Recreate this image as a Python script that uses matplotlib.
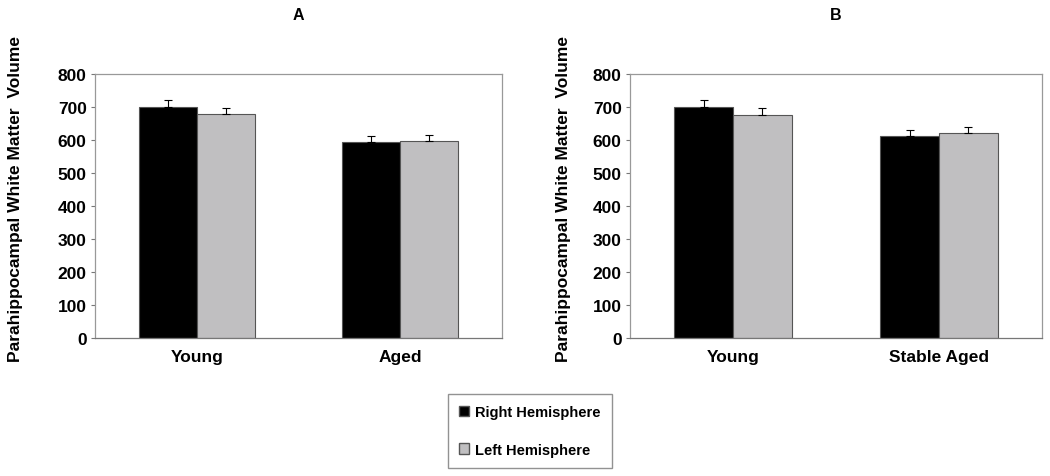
import matplotlib.pyplot as plt
import numpy as np
from matplotlib.patches import Patch

plt.rcParams['font.family'] = ['Liberation Sans', 'DejaVu Sans']
plt.rcParams['font.weight'] = 'bold'

# data
groups_a = ['Young', 'Aged']
right_a = [700, 593]
left_a = [680, 597]
right_err_a = [20, 20]
left_err_a = [16, 19]

groups_b = ['Young', 'Stable Aged']
right_b = [700, 612]
left_b = [677, 622]
right_err_b = [20, 18]
left_err_b = [19, 18]

series_names = ['Right Hemisphere', 'Left Hemisphere']
colors = ['black', '#c0bfc1']
yticks = [0, 100, 200, 300, 400, 500, 600, 700, 800]

fig = plt.figure(figsize=(10.5, 4.77), dpi=100)
ax_a = fig.add_axes([95/1050, 1 - 339/477, 407/1050, 264/477])
ax_b = fig.add_axes([630/1050, 1 - 339/477, 412/1050, 264/477])


def draw_panel(ax, groups, right, left, rerr, lerr, title, label_x):
    x = np.arange(len(groups))
    w = 0.285
    for off, vals, err, col in [(-w/2, right, rerr, colors[0]), (w/2, left, lerr, colors[1])]:
        ax.bar(x + off, vals, w, color=col, edgecolor='#555555', linewidth=0.8,
               yerr=[np.zeros(len(err)), err], capsize=3,
               error_kw=dict(ecolor='black', elinewidth=0.8, capthick=0.8))
    ax.set_xlim(-0.5, 1.5)
    ax.set_ylim(0, 800)
    ax.set_yticks(yticks)
    ax.set_xticks(x)
    ax.set_xticklabels(groups)
    ax.tick_params(axis='y', labelsize=12.5, length=3, width=0.8, color='#777777', pad=3)
    ax.tick_params(axis='x', labelsize=12.5, length=0, pad=8)
    for s in ax.spines.values():
        s.set_color('#999999')
        s.set_linewidth(0.9)
    ax.spines['bottom'].set_color('#777777')
    ax.set_ylabel('Parahippocampal White Matter  Volume', fontsize=12.5, fontweight='bold')
    ax.yaxis.set_label_coords(label_x, 0.53)
    ax.text(0.5, 1 + 60/264, title, transform=ax.transAxes, ha='center', va='center',
            fontsize=11.5, fontweight='bold')


draw_panel(ax_a, groups_a, right_a, left_a, right_err_a, left_err_a, 'A', (23 - 95)/407)
draw_panel(ax_b, groups_b, right_b, left_b, right_err_b, left_err_b, 'B', (571 - 630)/412)

handles = [Patch(facecolor=c, edgecolor='#555555') for c in colors]
leg = fig.legend(handles, series_names, loc='center', bbox_to_anchor=(530/1050, 1 - 432/477),
                 fontsize=10.5, frameon=True, fancybox=False, handlelength=0.7, handleheight=0.7,
                 handletextpad=0.4, labelspacing=1.6, borderpad=0.8)
leg.get_frame().set_edgecolor('#777777')
leg.get_frame().set_linewidth(1.0)

plt.savefig('out.png', dpi=100)
